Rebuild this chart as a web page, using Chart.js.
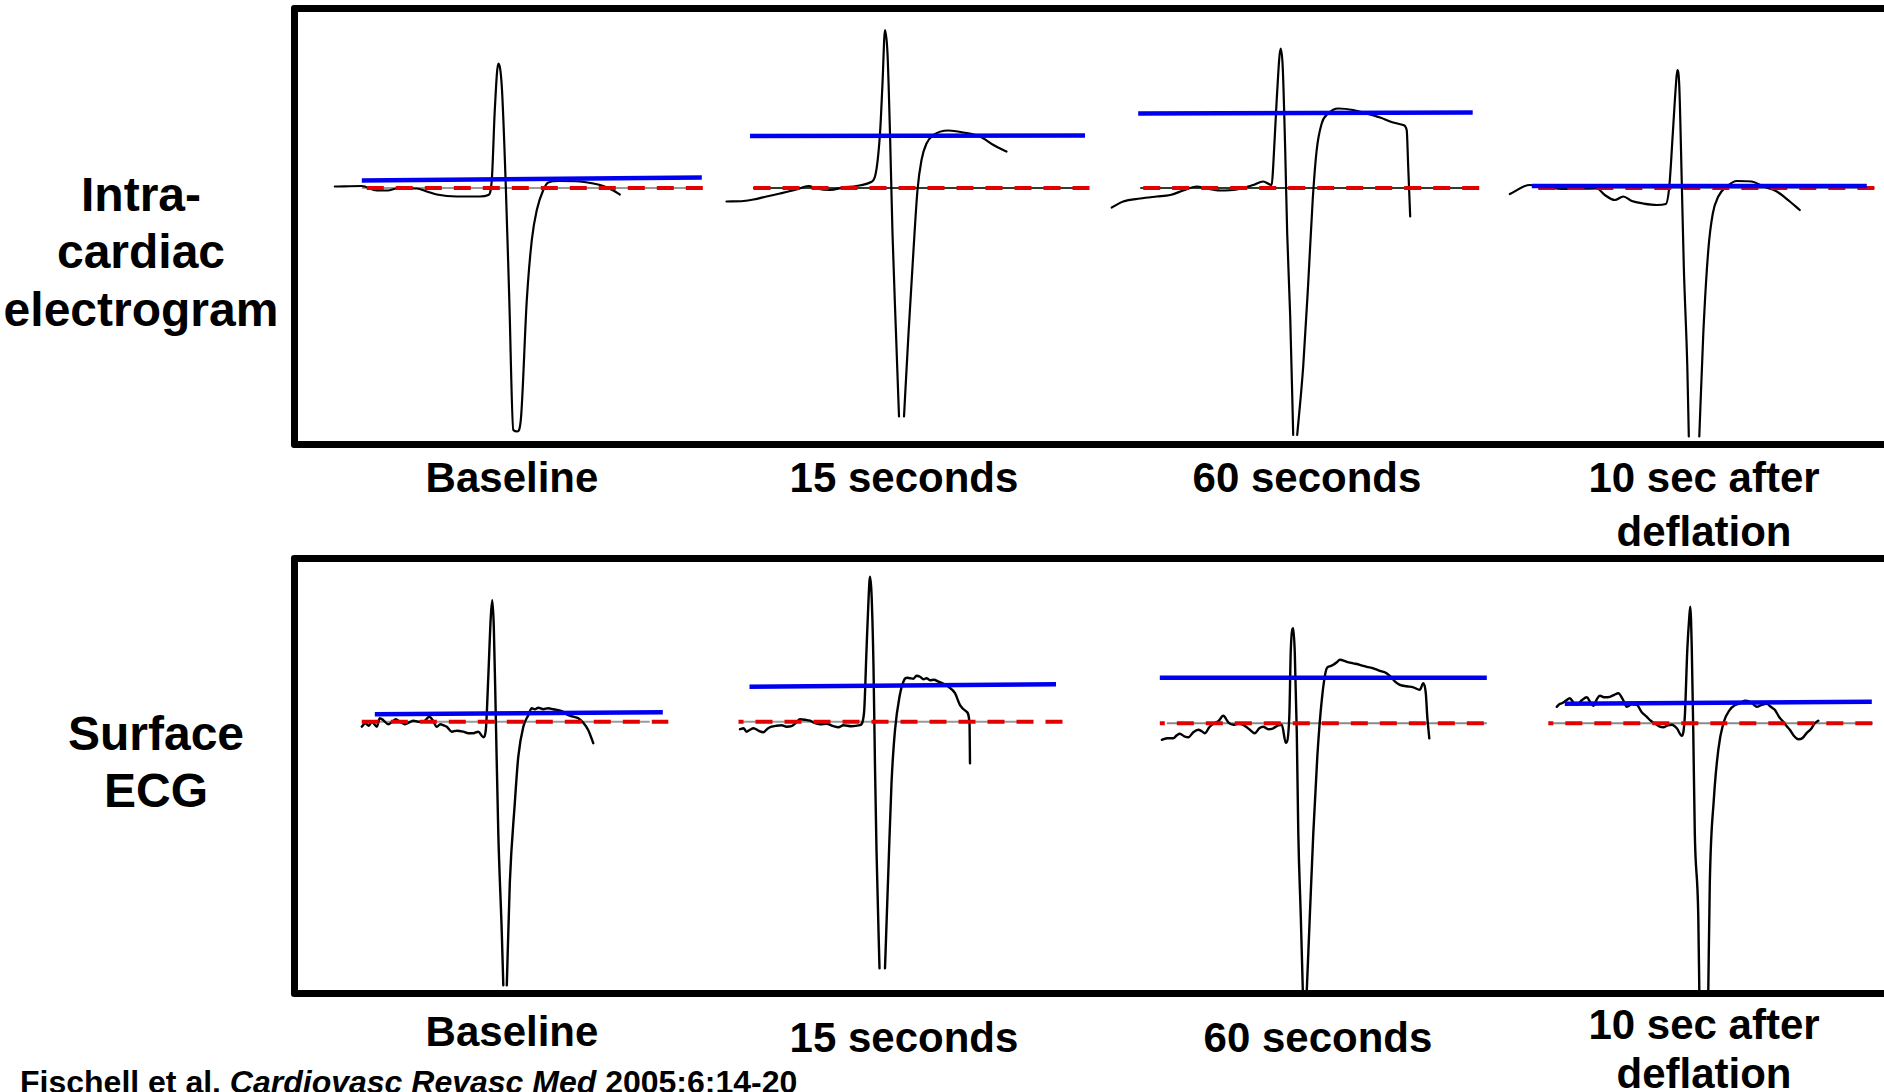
<!DOCTYPE html>
<html>
<head>
<meta charset="utf-8">
<script src="https://cdn.jsdelivr.net/npm/chart.js@4/dist/chart.umd.min.js"></script>
<style>
html,body{margin:0;padding:0;background:#fff;width:1884px;height:1092px;overflow:hidden}
body{position:relative;font-family:"Liberation Sans",Arial,Helvetica,sans-serif;font-weight:bold;color:#000}
.box{position:absolute;border:7px solid #000;box-sizing:border-box;z-index:5;border-radius:3px;pointer-events:none}
canvas{position:absolute;display:block}
.lbl{position:absolute;white-space:nowrap;line-height:1;transform:translateX(-50%)}
.foot{position:absolute;white-space:nowrap;line-height:1}
</style>
</head>
<body>
<div class="box" style="left:291px;top:5px;width:1600px;height:443px"></div>
<div class="box" style="left:291px;top:555px;width:1600px;height:442px"></div>
<div id="labels"></div>
<script>
// ---------------- DATA (time in ms relative to R peak, amplitude in mV relative to isoelectric line) ----------------
const panelTitles = ['Baseline', '15 seconds', '60 seconds', '10 sec after|deflation'];
const rowTitles = ['Intra-|cardiac|electrogram', 'Surface|ECG'];
const citation = ['Fischell et al. ', 'Cardiovasc Revasc Med', ' 2005:6:14-20'];

// Intracardiac electrogram
const intraBaselineT = [-327,-273,-243,-221,-203,-163,-143,-123,-83,-37,-20,-13,-7,0,7,15,22,30,38,45,57,67,77,90,100,123,163,190,210,230,243];
const intraBaselineV = [0.03,0.04,-0.05,-0.05,-0.01,-0.01,-0.07,-0.13,-0.17,-0.17,-0.14,0.16,1.56,2.49,2.03,0.03,-2.24,-4.84,-4.87,-4.64,-2.24,-1.04,-0.44,-0.04,0.11,0.14,0.13,0.09,0.04,-0.05,-0.13];
const intra15T = [-317,-283,-263,-237,-210,-177,-153,-137,-110,-83,-57,-30,-20,-10,-5,0,5,10,15,22,28,33,38,47,57,65,73,83,97,127,157,190,217,243];
const intra15V = [-0.27,-0.26,-0.23,-0.17,-0.11,-0.03,0.04,-0.01,-0.04,0.01,0.04,0.11,0.23,1.09,2.09,3.16,2.69,1.09,-0.91,-2.91,-4.57,null,-4.57,-2.91,-1.24,-0.04,0.56,0.89,1.06,1.15,1.11,1.03,0.86,0.73];
const intra60T = [-338,-315,-281,-248,-221,-195,-168,-148,-121,-88,-55,-35,-18,-15,-8,0,4,9,13,19,25,29,33,45,55,64,72,82,95,115,145,172,199,225,245,252,255,259];
const intra60V = [-0.39,-0.27,-0.21,-0.17,-0.14,-0.05,0.03,-0.01,-0.05,-0.03,0.06,0.13,0.06,0.43,1.76,2.79,2.43,0.76,-0.91,-2.57,-4.94,null,-4.94,-3.57,-1.91,-0.24,0.76,1.29,1.49,1.59,1.56,1.49,1.41,1.31,1.26,1.16,0.43,-0.57];
const intraPostT = [-335,-295,-275,-241,-208,-161,-145,-125,-108,-91,-68,-41,-23,-16,-9,-3,0,4,9,13,20,23,33,44,52,62,71,82,99,119,149,172,199,225,245];
const intraPostV = [-0.12,0.06,0.01,-0.01,-0.02,-0.01,-0.14,-0.24,-0.17,-0.26,-0.31,-0.34,-0.32,0.03,1.09,2.03,2.36,2.03,0.09,-1.57,-3.57,-4.97,null,-4.97,-2.91,-1.24,-0.51,-0.17,0.03,0.14,0.13,0.03,-0.07,-0.27,-0.44];

// Surface ECG
const ecgBaselineT = [-261,-254,-247,-241,-231,-225,-218,-208,-201,-193,-185,-175,-165,-158,-148,-138,-126,-119,-111,-104,-98,-91,-81,-71,-58,-48,-38,-28,-18,-13,-8,-3,0,3,7,12,19,22,25,29,35,45,52,62,72,79,85,92,102,112,122,132,142,152,162,172,182,192,202];
const ecgBaselineV = [-0.10,-0.03,-0.08,0,-0.10,0.07,0.03,-0.05,-0.01,0.05,0,-0.05,-0.01,0.02,0,0,0.10,0.03,-0.10,-0.05,-0.07,-0.10,-0.20,-0.18,-0.20,-0.23,-0.23,-0.20,-0.31,-0.17,0.90,2.10,2.43,1.90,0.10,-2.23,-4.23,-5.27,null,-5.27,-3.23,-1.63,-0.70,-0.10,0.13,0.27,0.25,0.28,0.25,0.27,0.25,0.23,0.20,0.13,0.10,0.07,-0.02,-0.17,-0.43];
const ecg15T = [-260,-253,-247,-240,-233,-223,-213,-205,-197,-187,-177,-167,-157,-148,-140,-130,-120,-110,-100,-87,-73,-63,-53,-37,-20,-12,-7,-3,0,3,7,10,13,19,25,30,37,43,50,59,68,74,80,87,93,100,107,113,120,128,137,147,157,170,180,193,199,200];
const ecg15V = [-0.15,-0.13,-0.20,-0.16,-0.13,-0.18,-0.21,-0.14,-0.10,-0.08,-0.07,-0.10,-0.09,-0.02,0.05,0.04,0.02,-0.03,-0.05,-0.04,-0.09,-0.11,-0.07,-0.09,-0.07,0.17,1.43,2.43,2.90,2.57,1.10,-0.90,-2.57,-4.93,null,-4.93,-2.90,-1.23,-0.17,0.50,0.83,0.88,0.87,0.86,0.92,0.90,0.85,0.87,0.83,0.84,0.80,0.76,0.70,0.57,0.33,0.20,-0.03,-0.83];
const ecg60T = [-263,-252,-240,-233,-227,-218,-210,-200,-190,-183,-177,-168,-160,-150,-140,-130,-120,-110,-100,-88,-77,-68,-60,-50,-40,-30,-23,-15,-8,-5,0,3,7,10,15,19,23,27,33,40,48,57,67,73,80,87,93,107,120,133,147,160,173,183,193,203,213,227,240,253,260,265,268,272];
const ecg60V = [-0.33,-0.30,-0.30,-0.24,-0.21,-0.26,-0.28,-0.18,-0.13,-0.16,-0.20,-0.08,-0.01,0.04,0.15,0.02,-0.03,-0.01,-0.03,-0.12,-0.20,-0.10,-0.07,-0.12,-0.10,-0.04,-0.03,-0.39,0.13,1.47,1.90,1.40,-0.20,-2.20,-3.87,-5.33,null,-5.33,-3.87,-2.20,-0.67,0.47,1.10,1.14,1.17,1.22,1.27,1.23,1.20,1.17,1.13,1.10,1.05,1.02,0.95,0.84,0.77,0.74,0.72,0.67,0.80,0.60,0.13,-0.30];
const ecgPostT = [-267,-262,-257,-249,-241,-234,-227,-217,-207,-200,-194,-187,-181,-171,-161,-152,-144,-135,-127,-117,-107,-97,-87,-79,-71,-62,-54,-45,-37,-27,-17,-11,-6,-2,0,3,6,9,16,18,27,36,39,47,56,66,79,89,99,109,119,126,133,143,153,161,169,178,186,193,199,207,216,224,233,241,249,256];
const ecgPostV = [0.33,0.38,0.40,0.45,0.50,0.42,0.37,0.46,0.52,0.42,0.35,0.48,0.55,0.52,0.53,0.57,0.60,0.48,0.33,0.38,0.37,0.22,0.13,0.05,0,-0.06,-0.08,-0.04,-0.03,-0.10,-0.25,0.13,1.47,2.13,2.33,1.47,-0.20,-2.20,-3.87,-5.33,null,-5.33,-3.20,-1.53,-0.53,0,0.27,0.36,0.40,0.45,0.43,0.38,0.33,0.37,0.39,0.33,0.27,0.12,0.03,-0.06,-0.13,-0.25,-0.32,-0.30,-0.19,-0.12,0,0.05];

// ST-level (blue) lines: [start time, end time], level at start, level at end
const intraStSpan = [[-273,407],[-270,400],[-285,384],[-291,379]];
const intraStStart = [0.15,1.04,1.49,0.04];
const intraStEnd = [0.21,1.05,1.51,0.04];
const ecgStSpan = [[-235,341],[-241,372],[-267,387],[-251,363]];
const ecgStStart = [0.15,0.70,0.91,0.39];
const ecgStEnd = [0.19,0.75,0.91,0.43];

// Isoelectric (red dashed) reference spans, and the thin grey baseline under them
const intraIsoSpan = [[-263,410],[-263,410],[-275,399],[-278,395]];
const ecgIsoSpan = [[-261,352],[-263,390],[-267,385],[-284,370]];
const intraRefSpan = [[-273,403],[-264,384],[-281,375],[-278,395]];
const ecgRefSpan = [[-261,315],[-256,326],[-253,387],[-281,365]];

// ---------------- LAYOUT ----------------
const MS_PER_PX = 2, MV_PER_PX = 0.02;
const colEdges = [[298,720],[720,1100],[1100,1500],[1500,1877]];
const rowsLayout = [
  {top:13, bottom:442, baseY:[188,188,188,188], rX:[498.3,885,1280.7,1677.3], refColor:['#9a9a9a','#2f3d2f','#2f3d2f','#9a9a9a'], dashOffset:[0,0,0,0], trW:2.2},
  {top:563, bottom:990, baseY:[721.7,721.7,723.3,723.3], rX:[492.3,870,1293.3,1690.3], refColor:['#9a9a9a','#9a9a9a','#8a8a8a','#8a8a8a'], dashOffset:[0,12,12,12], trW:2.4}
];
const traces = [
  [[intraBaselineT,intraBaselineV],[intra15T,intra15V],[intra60T,intra60V],[intraPostT,intraPostV]],
  [[ecgBaselineT,ecgBaselineV],[ecg15T,ecg15V],[ecg60T,ecg60V],[ecgPostT,ecgPostV]]
];
const stSpans = [intraStSpan, ecgStSpan], stStarts = [intraStStart, ecgStStart], stEnds = [intraStEnd, ecgStEnd];
const isoSpans = [intraIsoSpan, ecgIsoSpan], refSpans = [intraRefSpan, ecgRefSpan];

function pts(T, V){ return T.map((t,k)=>({x:t, y:V[k]})); }

rowsLayout.forEach((row, r) => {
  colEdges.forEach((edge, c) => {
    const cv = document.createElement('canvas');
    const w = edge[1]-edge[0], h = row.bottom-row.top;
    cv.width = w; cv.height = h;
    cv.style.left = edge[0]+'px'; cv.style.top = row.top+'px';
    cv.style.width = w+'px'; cv.style.height = h+'px';
    document.body.appendChild(cv);
    const rX = row.rX[c], bY = row.baseY[c];
    const [T, V] = traces[r][c];
    const st = stSpans[r][c], iso = isoSpans[r][c], ref = refSpans[r][c];
    new Chart(cv.getContext('2d'), {
      type:'line',
      data:{datasets:[
        {label:'ST level', data:[{x:st[0],y:stStarts[r][c]},{x:st[1],y:stEnds[r][c]}], borderColor:'#0000f0', borderWidth:4.5, pointRadius:0, tension:0},
        {label:'Isoelectric', data:[{x:iso[0],y:0},{x:iso[1],y:0}], borderColor:'#e20000', borderWidth:4, borderDash:[17,12], borderDashOffset:row.dashOffset[c], pointRadius:0, tension:0},
        {label:'Signal', data:pts(T,V), borderColor:'#000', borderWidth:row.trW, pointRadius:0, cubicInterpolationMode:'monotone', spanGaps:false, borderJoinStyle:'round', borderCapStyle:'round'},
        {label:'Reference', data:[{x:ref[0],y:0},{x:ref[1],y:0}], borderColor:row.refColor[c], borderWidth:2, pointRadius:0, tension:0}
      ]},
      options:{
        responsive:false, maintainAspectRatio:false, animation:false, devicePixelRatio:1,
        layout:{padding:0},
        plugins:{legend:{display:false}, tooltip:{enabled:false}, title:{display:false}},
        events:[],
        scales:{
          x:{type:'linear', display:false, min:(edge[0]-rX)*MS_PER_PX, max:(edge[1]-rX)*MS_PER_PX},
          y:{type:'linear', display:false, min:(bY-row.bottom)*MV_PER_PX, max:(bY-row.top)*MV_PER_PX}
        }
      }
    });
  });
});

// ---------------- TEXT ----------------
const labels = document.getElementById('labels');
function addText(text, cx, baseline, size){
  const d = document.createElement('div');
  d.className = 'lbl';
  d.textContent = text;
  d.style.fontSize = size+'px';
  d.style.left = cx+'px';
  d.style.top = (baseline - 0.8465*size)+'px';
  labels.appendChild(d);
}
// row titles
const rowTitlePos = [{cx:141, base:[212,269,327]}, {cx:156, base:[751,808]}];
rowTitles.forEach((t,i)=>{ t.split('|').forEach((line,k)=> addText(line, rowTitlePos[i].cx, rowTitlePos[i].base[k], 48)); });
// column titles
const colTitleX = [[512,904,1307,1704],[512,904,1318,1704]];
const colTitleBase = [[[493],[493],[493],[493,547]],[[1047],[1053],[1053],[1040,1089]]];
for (let r=0;r<2;r++) panelTitles.forEach((t,c)=>{ t.split('|').forEach((line,k)=> addText(line, colTitleX[r][c], colTitleBase[r][c][k], 42)); });
// citation
const f = document.createElement('div');
f.className = 'foot';
f.style.fontSize = '32px';
f.style.left = '20px';
f.style.top = (1093 - 0.8465*32)+'px';
f.innerHTML = citation[0] + '<i>' + citation[1] + '</i>' + citation[2];
labels.appendChild(f);
</script>
</body>
</html>
